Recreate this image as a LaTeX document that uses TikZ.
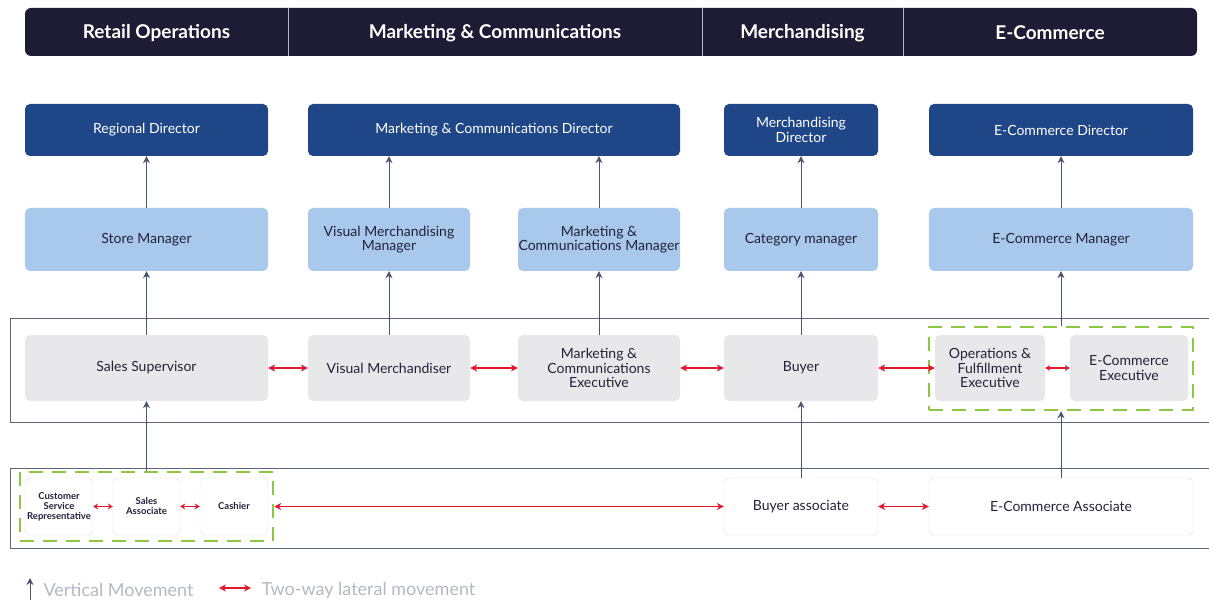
\documentclass[tikz,border=0pt]{standalone}
\usepackage{fontspec}
\setmainfont{Lato}
\usetikzlibrary{arrows.meta}
\usetikzlibrary{positioning}
\definecolor{hdrnavy}{HTML}{1E1C35}
\definecolor{dirblue}{HTML}{1F4788}
\definecolor{mgrblue}{HTML}{A8C8EC}
\definecolor{execgray}{HTML}{E8E8EA}
\definecolor{assocline}{HTML}{E0E0E3}
\definecolor{groupgreen}{HTML}{8DC63F}
\definecolor{bandline}{HTML}{5B667A}
\definecolor{vgray}{HTML}{4A5670}
\definecolor{lred}{HTML}{E3182D}
\definecolor{inkdark}{HTML}{24223A}
\definecolor{legendgray}{HTML}{B5B8C2}
\tikzset{box/.style = {rounded corners=5pt, inner xsep=0pt, inner ysep=2pt, align=center,
                       font=\fontsize{14}{14.5}\selectfont}}
\tikzset{director/.style = {box, fill=dirblue, text=white, minimum height=52pt}}
\tikzset{manager/.style = {box, fill=mgrblue, text=inkdark, minimum height=63pt}}
\tikzset{executive/.style = {box, fill=execgray, text=inkdark, minimum height=66pt}}
\tikzset{associate/.style = {box, fill=white, draw=assocline, text=inkdark, minimum height=57pt}}
\tikzset{smallassoc/.style = {associate, minimum width=68pt,
                              font=\fontsize{9.5}{10}\selectfont\bfseries}}
\tikzset{group/.style = {draw=groupgreen, line width=2.5pt, dash pattern=on 14pt off 9pt}}
\tikzset{band/.style = {draw=bandline, line width=1pt}}
\tikzset{vmove/.style = {draw=vgray, line width=1pt, -{Stealth[length=7pt,width=7pt]}}}
\tikzset{lmove/.style = {draw=lred, line width=1.2pt,
                         {Stealth[length=7pt,width=7pt]}-{Stealth[length=7pt,width=7pt]}}}
\tikzset{headtext/.style = {text=white, font=\fontsize{19}{20}\selectfont\bfseries}}
\tikzset{legendtext/.style = {anchor=west, text=legendgray, font=\fontsize{18}{19}\selectfont}}
\begin{document}
\begin{tikzpicture}[x=1pt, y=-1pt]
  \useasboundingbox (0,0) rectangle (1209,601);

  % header bar
  \fill[hdrnavy, rounded corners=6pt] (25,8) rectangle (1197,56);
  \foreach \xd in {288,702,903}
    \draw[legendgray, line width=1pt] (\xd,8) -- (\xd,56);
  \node[headtext] (hretail) at (156.5,33) {Retail Operations};
  \node[headtext] (hmarket) at (495,33) {Marketing \& Communications};
  \node[headtext] (hmerch) at (802.5,33) {Merchandising};
  \node[headtext] (hecom) at (1050,33) {E-Commerce};

  % bands
  \draw[band] (10,319) rectangle (1215,422);
  \draw[band] (10,468) rectangle (1215,548);

  % directors
  \node[director, minimum width=243pt] (regdir) at (146.5,130) {Regional Director};
  \node[director, minimum width=372pt] (mcdir) at (494,130) {Marketing \& Communications Director};
  \node[director, minimum width=154pt] (merdir) at (801,130) {Merchandising\\Director};
  \node[director, minimum width=264pt] (ecdir) at (1061,130) {E-Commerce Director};

  % managers
  \node[manager, minimum width=243pt] (storemgr) at (146.5,239.5) {Store Manager};
  \node[manager, minimum width=162pt] (vmmgr) at (389,239.5) {Visual Merchandising\\Manager};
  \node[manager, minimum width=162pt] (mcmgr) at (599,239.5) {Marketing \&\\Communications Manager};
  \node[manager, minimum width=154pt] (catmgr) at (801,239.5) {Category manager};
  \node[manager, minimum width=264pt] (ecmgr) at (1061,239.5) {E-Commerce Manager};

  % executives
  \node[executive, minimum width=243pt] (salessup) at (146.5,368) {Sales Supervisor};
  \node[executive, minimum width=162pt] (vmer) at (389,368) {Visual Merchandiser};
  \node[executive, minimum width=162pt] (mcexec) at (599,368) {Marketing \&\\Communications\\Executive};
  \node[executive, minimum width=154pt] (buyer) at (801,368) {Buyer};
  \node[group, minimum width=264pt, minimum height=83pt] (ecgroup) at (1061,368.5) {};
  \node[executive, minimum width=110pt] (opsexec) at (990,368) {Operations \&\\Fulfillment\\Executive};
  \node[executive, minimum width=118pt] (ecexec) at (1129,368) {E-Commerce\\Executive};

  % associates
  \node[group, minimum width=253pt, minimum height=69pt] (storegroup) at (146.5,506.5) {};
  \node[smallassoc] (csrep) at (59,506.5) {Customer\\Service\\Representative};
  \node[smallassoc, minimum width=67pt] (salesassoc) at (146.5,506.5) {Sales\\Associate};
  \node[smallassoc] (cashier) at (234,506.5) {Cashier};
  \node[associate, minimum width=154pt] (buyassoc) at (801,506.5) {Buyer associate};
  \node[associate, minimum width=264pt] (ecassoc) at (1061,506.5) {E-Commerce Associate};

  % vertical movement
  \draw[vmove] (storemgr) -- (regdir);
  \draw[vmove] (vmmgr.north) -- (vmmgr.north |- mcdir.south);
  \draw[vmove] (mcmgr.north) -- (mcmgr.north |- mcdir.south);
  \draw[vmove] (catmgr) -- (merdir);
  \draw[vmove] (ecmgr) -- (ecdir);
  \draw[vmove] (salessup) -- (storemgr);
  \draw[vmove] (vmer) -- (vmmgr);
  \draw[vmove] (mcexec) -- (mcmgr);
  \draw[vmove] (buyer) -- (catmgr);
  \draw[vmove] (ecgroup) -- (ecmgr);
  \draw[vmove] (storegroup) -- (salessup);
  \draw[vmove] (buyassoc) -- (buyer);
  \draw[vmove] (ecassoc) -- (ecgroup);

  % lateral movement
  \draw[lmove] (salessup) -- (vmer);
  \draw[lmove] (vmer) -- (mcexec);
  \draw[lmove] (mcexec) -- (buyer);
  \draw[lmove] (buyer) -- (opsexec);
  \draw[lmove, {Stealth[length=5pt,width=6pt]}-{Stealth[length=5pt,width=6pt]}] (opsexec) -- (ecexec);
  \draw[lmove, {Stealth[length=5pt,width=6pt]}-{Stealth[length=5pt,width=6pt]}] (csrep) -- (salesassoc);
  \draw[lmove, {Stealth[length=5pt,width=6pt]}-{Stealth[length=5pt,width=6pt]}] (salesassoc) -- (cashier);
  \draw[lmove] (storegroup.east) -- (buyassoc);
  \draw[lmove] (buyassoc) -- (ecassoc);

  % legend
  \coordinate (vleg0) at (30,600);
  \coordinate (vleg1) at (30,578);
  \draw[vmove] (vleg0) -- (vleg1);
  \node[legendtext] (vlegtext) at (40,590) {Vertical Movement};
  \coordinate (lleg0) at (219,588);
  \coordinate (lleg1) at (251,588);
  \draw[lmove, line width=1.5pt] (lleg0) -- (lleg1);
  \node[legendtext] (llegtext) at (258,590) {Two-way lateral movement};
\end{tikzpicture}
\end{document}
